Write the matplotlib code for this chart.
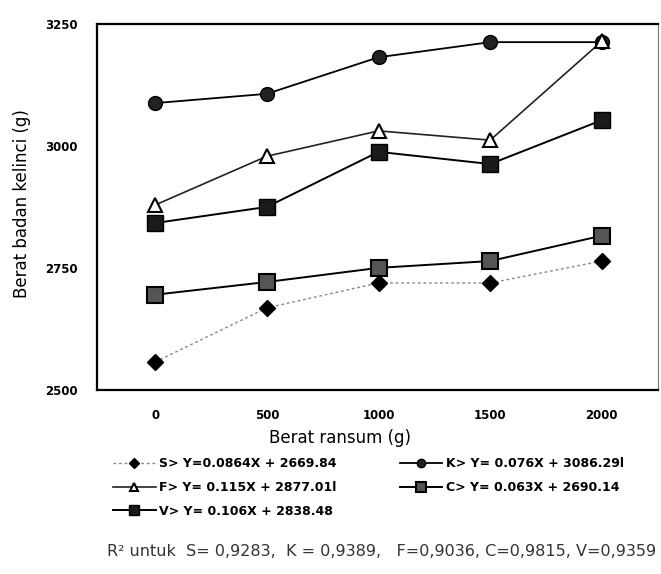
import matplotlib.pyplot as plt

plt.rcParams['font.family'] = ['DejaVu Sans']

ransum = [0, 500, 1000, 1500, 2000]
berat_s = [2557, 2668, 2719, 2719, 2764]
berat_k = [3088, 3107, 3182, 3213, 3213]
berat_f = [2879, 2979, 3031, 3012, 3215]
berat_v = [2842, 2875, 2988, 2963, 3053]
berat_c = [2695, 2721, 2750, 2764, 2816]

lab_s = 'S> Y=0.0864X + 2669.84'
lab_f = 'F> Y= 0.115X + 2877.01l'
lab_v = 'V> Y= 0.106X + 2838.48'
lab_k = 'K> Y= 0.076X + 3086.29l'
lab_c = 'C> Y= 0.063X + 2690.14'
r2_text = "R\u00b2 untuk  S= 0,9283,  K = 0,9389,   F=0,9036, C=0,9815, V=0,9359"

fig = plt.figure(figsize=(6.61, 5.74), dpi=100)
ax = fig.add_axes([0.147, 0.321, 0.848, 0.637])

ax.plot(ransum, berat_s, color='#888888', lw=1, ls=(0, (2, 2)), marker='D',
        ms=8, mfc='black', mec='black', label=lab_s, zorder=3)
ax.plot(ransum, berat_f, color='#222222', lw=1.2, marker='^', ms=10,
        mfc='white', mec='black', mew=1.5, label=lab_f, zorder=4)
ax.plot(ransum, berat_v, color='black', lw=1.4, marker='s', ms=11,
        mfc='#1a1a1a', mec='black', label=lab_v, zorder=4)
ax.plot(ransum, berat_k, color='black', lw=1.3, marker='o', ms=10,
        mfc='#222222', mec='black', label=lab_k, zorder=3)
ax.plot(ransum, berat_c, color='black', lw=1.4, marker='s', ms=12,
        mfc='#555555', mec='black', mew=1.5, label=lab_c, zorder=4)

ax.set_xlim(-260, 2250)
ax.set_ylim(2500, 3250)
ax.set_xticks(ransum)
ax.set_yticks([2500, 2750, 3000, 3250])
ax.tick_params(length=0, labelsize=8.5, pad=14)
for t in ax.get_xticklabels() + ax.get_yticklabels():
    t.set_fontweight('bold')
for side in ['left', 'bottom', 'top']:
    ax.spines[side].set_linewidth(1.6)
ax.spines['right'].set_linewidth(0.8)
ax.spines['right'].set_color('#777777')

ax.set_xlabel('Berat ransum (g)', fontsize=12)
ax.set_ylabel('Berat badan kelinci (g)', fontsize=12)
ax.xaxis.set_label_coords(0.433, -0.108)
ax.yaxis.set_label_coords(-0.118, 0.508)

handles, labels = ax.get_legend_handles_labels()
leg_opts = dict(frameon=False, prop={'weight': 'bold', 'size': 9},
                handlelength=3.4, handletextpad=0.3, labelspacing=0.85,
                markerscale=0.6, borderaxespad=0, borderpad=0)
fig.legend(handles[:3], labels[:3], loc='upper left',
           bbox_to_anchor=(0.171, 0.203), **leg_opts)
fig.legend(handles[3:], labels[3:], loc='upper left',
           bbox_to_anchor=(0.605, 0.203), **leg_opts)

fig.text(0.162, 0.032, r2_text, fontsize=11.5, color='#333333')

fig.savefig('out.png', dpi=100)
